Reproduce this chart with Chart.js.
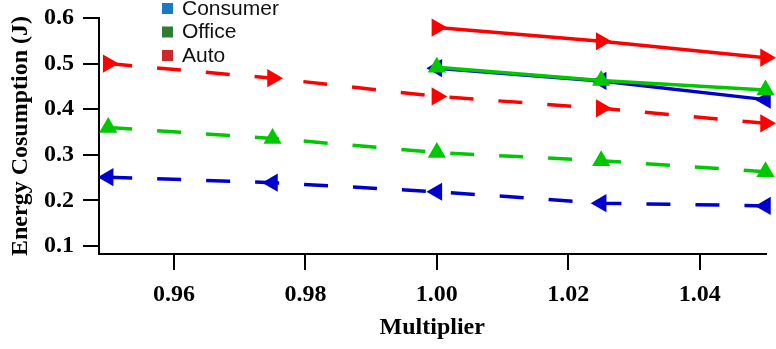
<!DOCTYPE html>
<html>
<head>
<meta charset="utf-8">
<script src="https://cdn.jsdelivr.net/npm/chart.js@4/dist/chart.umd.min.js"></script>
<style>
  html, body { margin: 0; padding: 0; background: #fff; }
  #wrap { width: 776px; height: 349px; }
</style>
</head>
<body>
<div id="wrap"><canvas id="energyChart" width="776" height="349"></canvas></div>
<script>
// Energy vs multiplier
const categories = ['Consumer', 'Office', 'Auto'];
const legendColors = ['#1b78c2', '#2e7d32', '#cc2a2a'];
const lineColors = ['#0000cc', '#00c800', '#ff0000'];

// dashed series sweep 0.95 .. 1.05, solid ones only 1.00 .. 1.05
const xDashed = [0.95, 0.975, 1.0, 1.025, 1.05];
const xSolid = [1.0, 1.025, 1.05];

const consumerDashed = [0.251, 0.239, 0.219, 0.194, 0.188];
const officeDashed = [0.360, 0.336, 0.305, 0.287, 0.263];
const autoDashed = [0.500, 0.468, 0.428, 0.402, 0.369];

const consumerSolid = [0.490, 0.462, 0.421];
const officeSolid = [0.492, 0.463, 0.442];
const autoSolid = [0.579, 0.549, 0.513];

const xTicks = [0.96, 0.98, 1.00, 1.02, 1.04];
const yTicks = [0.1, 0.2, 0.3, 0.4, 0.5, 0.6];

// marker direction per category: left, up, right
const markerRotation = [-90, 0, 90];

function toPoints(xs, ys) {
    return xs.map((x, i) => ({ x: x, y: ys[i] }));
}

function makeSeries(idx, xs, ys, dashed, order) {
    return {
        label: categories[idx] + (dashed ? ' (dashed)' : ''),
        data: toPoints(xs, ys),
        borderColor: lineColors[idx],
        backgroundColor: lineColors[idx],
        pointBackgroundColor: lineColors[idx],
        pointBorderColor: lineColors[idx],
        borderWidth: 3.5,
        borderDash: dashed ? [24, 25] : [],
        pointStyle: 'triangle',
        pointRotation: markerRotation[idx],
        pointRadius: 10.5,
        pointBorderWidth: 0,
        tension: 0,
        clip: false,
        order: order
    };
}

const serifFamily = '"Liberation Serif", "Times New Roman", serif';
const serifBold = { family: serifFamily, size: 24, weight: 'bold' };

// legend is drawn by hand: 3 entries for 6 datasets, colours differ from the lines
const legendPlugin = {
    id: 'boxLegend',
    afterDraw(chart) {
        const ctx = chart.ctx;
        ctx.save();
        ctx.font = '21px "Liberation Sans", Arial, sans-serif';
        ctx.textBaseline = 'middle';
        ctx.textAlign = 'left';
        categories.forEach((name, i) => {
            const cy = 8 + i * 23.5;
            ctx.fillStyle = legendColors[i];
            ctx.fillRect(162, cy - 5, 11, 11);
            ctx.fillStyle = '#111';
            ctx.fillText(name, 182, cy + 1);
        });
        ctx.restore();
    }
};

const ctx = document.getElementById('energyChart').getContext('2d');
new Chart(ctx, {
    type: 'line',
    data: {
        datasets: [
            makeSeries(2, xDashed, autoDashed, true, 6),
            makeSeries(1, xDashed, officeDashed, true, 5),
            makeSeries(0, xDashed, consumerDashed, true, 4),
            makeSeries(2, xSolid, autoSolid, false, 3),
            makeSeries(0, xSolid, consumerSolid, false, 2),
            makeSeries(1, xSolid, officeSolid, false, 1)
        ]
    },
    options: {
        responsive: false,
        devicePixelRatio: 1,
        animation: false,
        layout: { padding: { top: 17, right: 8, left: 0, bottom: 0 } },
        plugins: {
            legend: { display: false },
            tooltip: { enabled: false }
        },
        scales: {
            x: {
                type: 'linear',
                min: 0.9486,
                max: 1.05,
                afterBuildTicks: axis => { axis.ticks = xTicks.map(v => ({ value: v })); },
                afterFit: scale => { scale.height = 95; },
                border: { display: true, color: '#000', width: 2 },
                grid: { drawOnChartArea: false, drawTicks: true, tickLength: 16, color: '#000', lineWidth: 2 },
                ticks: {
                    color: '#000',
                    font: serifBold,
                    padding: 10,
                    maxRotation: 0,
                    callback: v => Number(v).toFixed(2)
                },
                title: {
                    display: true,
                    text: 'Multiplier',
                    color: '#000',
                    font: serifBold,
                    padding: { top: 0, bottom: 7 }
                }
            },
            y: {
                type: 'linear',
                min: 0.0825,
                max: 0.6,
                afterBuildTicks: axis => { axis.ticks = yTicks.map(v => ({ value: v })); },
                afterFit: scale => { scale.width = 99; },
                border: { display: true, color: '#000', width: 2 },
                grid: { drawOnChartArea: false, drawTicks: true, tickLength: 16, color: '#000', lineWidth: 2 },
                ticks: {
                    color: '#000',
                    font: { family: serifFamily, size: 24, weight: 'bold', lineHeight: 0.75 },
                    padding: 9,
                    callback: v => Number(v).toFixed(1)
                },
                title: {
                    display: true,
                    text: 'Energy Cosumption (J)',
                    color: '#000',
                    font: serifBold,
                    padding: { top: 6, bottom: 0 }
                }
            }
        }
    },
    plugins: [legendPlugin]
});
</script>
</body>
</html>
